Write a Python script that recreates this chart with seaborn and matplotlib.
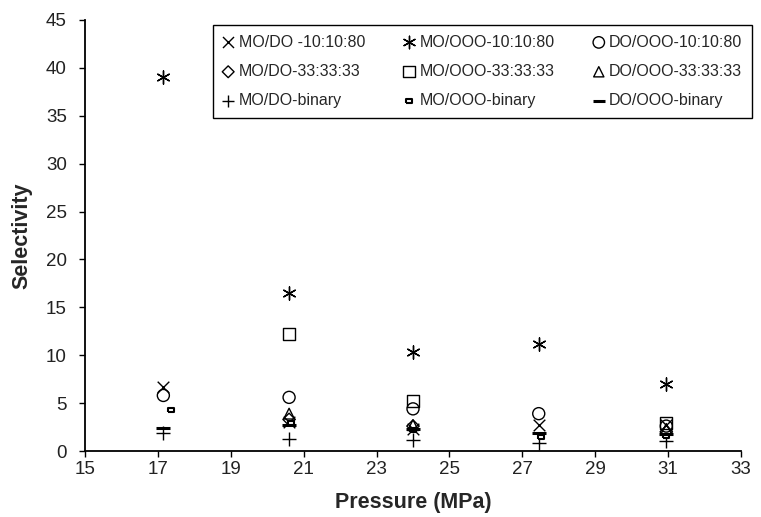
import matplotlib
matplotlib.use("Agg")
import matplotlib.pyplot as plt
import pandas as pd
import seaborn as sns

sns.set_theme(style="ticks")
plt.rcParams["font.family"] = ["Liberation Sans", "DejaVu Sans"]

# pressure (MPa) and selectivity per series
x_all = [17.15, 20.6, 24.0, 27.45, 30.95]
x_33 = [20.6, 24.0, 30.95]
x_mo_ooo_bin = [17.35, 20.65, 24.0, 27.5, 30.95]

mo_do_10 = [6.7, 3.0, 2.3, 2.7, 2.7]
mo_ooo_10 = [39.0, 16.5, 10.3, 11.2, 7.0]
do_ooo_10 = [5.8, 5.6, 4.4, 3.9, 2.6]
mo_do_33 = [3.3, 2.6, 2.0]
mo_ooo_33 = [12.2, 5.2, 2.9]
do_ooo_33 = [3.9, 2.7, 2.3]
mo_do_bin = [1.9, 1.3, 1.1, 0.8, 1.0]
mo_ooo_bin = [4.3, 2.9, 2.2, 1.5, 1.6]
do_ooo_bin = [2.4, 2.7, 2.3, 1.9, 1.8]

x_ticks = [15, 17, 19, 21, 23, 25, 27, 29, 31, 33]
y_ticks = [0, 5, 10, 15, 20, 25, 30, 35, 40, 45]

rect = [(-1, -0.5), (1, -0.5), (1, 0.5), (-1, 0.5), (-1, -0.5)]

series = [
    ("MO/DO -10:10:80", x_all, mo_do_10, dict(marker="x", s=70, linewidth=1.0)),
    ("MO/OOO-10:10:80", x_all, mo_ooo_10, dict(marker=(6, 2, 0), s=90, linewidth=1.0)),
    ("DO/OOO-10:10:80", x_all, do_ooo_10, dict(marker="o", s=75, facecolor="none", edgecolor="black", linewidth=1.0)),
    ("MO/DO-33:33:33", x_33, mo_do_33, dict(marker="D", s=40, facecolor="none", edgecolor="black", linewidth=1.0)),
    ("MO/OOO-33:33:33", x_33, mo_ooo_33, dict(marker="s", s=75, facecolor="none", edgecolor="black", linewidth=1.0)),
    ("DO/OOO-33:33:33", x_33, do_ooo_33, dict(marker="^", s=60, facecolor="none", edgecolor="black", linewidth=1.0)),
    ("MO/DO-binary", x_all, mo_do_bin, dict(marker="+", s=90, linewidth=1.0)),
    ("MO/OOO-binary", x_mo_ooo_bin, mo_ooo_bin, dict(marker=rect, s=25, facecolor="white", edgecolor="black", linewidth=1.5)),
    ("DO/OOO-binary", x_all, do_ooo_bin, dict(marker="_", s=90, linewidth=2.2)),
]

fig = plt.figure(figsize=(7.61, 5.17), dpi=100)
ax = fig.add_axes([85 / 761, 66 / 517, 656 / 761, 431 / 517])

for label, xs, ys, style in series:
    df = pd.DataFrame({"x": xs, "y": ys})
    kw = dict(style)
    if "edgecolor" not in kw:
        kw["color"] = "black"
    sns.scatterplot(data=df, x="x", y="y", ax=ax, label=label, legend=True, **kw)

ax.set_xlim(15, 33)
ax.set_ylim(0, 45)
ax.set_xticks(x_ticks)
ax.set_yticks(y_ticks)
ax.tick_params(axis="both", labelsize=13.5, direction="out", length=4, width=1, color="black", labelcolor="#222222")
ax.tick_params(axis="y", pad=9)
for side in ["top", "right"]:
    ax.spines[side].set_visible(False)
for side in ["left", "bottom"]:
    ax.spines[side].set_color("black")
    ax.spines[side].set_linewidth(1.3)

ax.set_xlabel("Pressure (MPa)", fontsize=15.5, fontweight="bold", labelpad=10)
ax.set_ylabel("Selectivity", fontsize=15.5, fontweight="bold", labelpad=10)

# legend filled row by row, like the original
handles, labels = ax.get_legend_handles_labels()
order = [0, 3, 6, 1, 4, 7, 2, 5, 8]
leg = ax.legend(
    [handles[i] for i in order],
    [labels[i] for i in order],
    ncol=3,
    loc="upper left",
    mode="expand",
    bbox_to_anchor=(213 / 761, 1 - 115 / 517, 539 / 761, 90 / 517),
    bbox_transform=fig.transFigure,
    borderaxespad=0,
    fontsize=11.5,
    frameon=True,
    fancybox=False,
    framealpha=1,
    edgecolor="black",
    handlelength=0.7,
    handletextpad=0.3,
    columnspacing=1.5,
    labelspacing=0.9,
    borderpad=0.6,
    markerscale=0.95,
)
leg.get_frame().set_linewidth(1.0)

fig.savefig("out.png", dpi=100)
